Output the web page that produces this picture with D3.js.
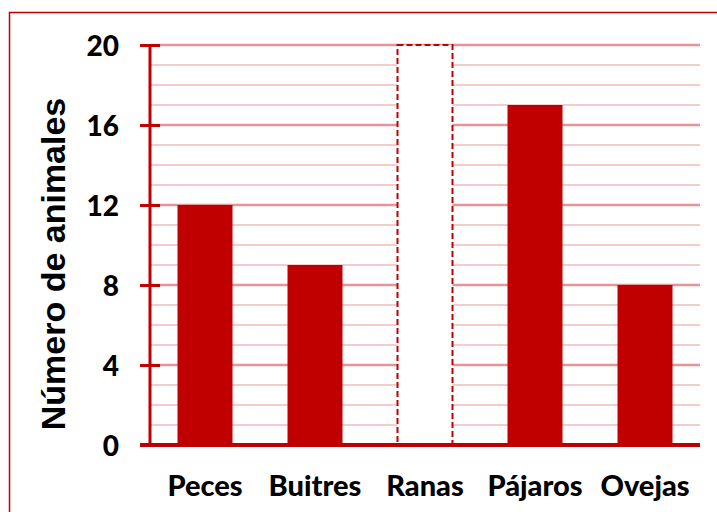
<!DOCTYPE html>
<html>
<head>
<meta charset="utf-8">
<script src="https://cdn.jsdelivr.net/npm/d3@7"></script>
<style>
	body { margin: 0; background: #fff; }
	svg { display: block; }
</style>
</head>
<body>
<svg id="chart" width="717" height="512"></svg>
<script>
// Chart data
const categories = ["Peces", "Buitres", "Ranas", "Pájaros", "Ovejas"];
const values = [12, 9, 20, 17, 8];
const emptyBars = ["Ranas"]; // drawn as dashed outline only
const majorTicks = [0, 4, 8, 12, 16, 20];
const minorTicks = d3.range(1, 20).filter(v => v % 4 !== 0);
const yTitle = "Número de animales";

const red = "#c00000";

const svg = d3.select("#chart");

const x = d3.scaleBand()
	.domain(categories)
	.range([150, 700])
	.paddingInner(0.5)
	.paddingOuter(0.25);

const y = d3.scaleLinear()
	.domain([0, 20])
	.range([445, 45]);

// Outer frame (right and bottom edges fall outside the picture)
svg.append("rect")
	.attr("x", 9.5).attr("y", 12.5)
	.attr("width", 730).attr("height", 520)
	.attr("fill", "none")
	.attr("stroke", red)
	.attr("stroke-width", 1.5);

// Gridlines
svg.append("g").selectAll("line")
	.data(minorTicks)
	.enter().append("line")
	.attr("x1", 150).attr("x2", 700)
	.attr("y1", d => y(d)).attr("y2", d => y(d))
	.attr("stroke", "#f5cccc")
	.attr("stroke-width", 2);

svg.append("g").selectAll("line")
	.data(majorTicks.filter(d => d > 0))
	.enter().append("line")
	.attr("x1", 150).attr("x2", 700)
	.attr("y1", d => y(d)).attr("y2", d => y(d))
	.attr("stroke", "#e49595")
	.attr("stroke-width", 2.5);

// Bars
const data = categories.map((c, i) => ({ name: c, value: values[i] }));

svg.append("g").selectAll("rect")
	.data(data)
	.enter().append("rect")
	.attr("x", d => x(d.name))
	.attr("y", d => y(d.value))
	.attr("width", x.bandwidth())
	.attr("height", d => y(0) - y(d.value))
	.attr("fill", d => emptyBars.includes(d.name) ? "#fff" : red)
	.attr("stroke", d => emptyBars.includes(d.name) ? red : "none")
	.attr("stroke-width", 2)
	.attr("stroke-dasharray", d => emptyBars.includes(d.name) ? "6,3" : null);

// Y axis: ticks crossing the axis line
const yAxis = svg.append("g")
	.attr("transform", "translate(160,0)")
	.call(d3.axisLeft(y).tickValues(majorTicks).tickSize(20).tickPadding(21));

yAxis.select(".domain").remove();
yAxis.selectAll(".tick line")
	.attr("stroke", red)
	.attr("stroke-width", 3);
yAxis.selectAll(".tick text")
	.attr("dy", "10px")
	.attr("fill", "#000")
	.style("font-family", "Lato, sans-serif")
	.style("font-weight", "900")
	.style("font-size", "28px");

svg.append("line")
	.attr("x1", 150).attr("x2", 150)
	.attr("y1", y(20) - 1).attr("y2", y(0))
	.attr("stroke", red)
	.attr("stroke-width", 3);

// X axis
svg.append("line")
	.attr("x1", 140).attr("x2", 700)
	.attr("y1", y(0)).attr("y2", y(0))
	.attr("stroke", red)
	.attr("stroke-width", 4);

svg.append("g").selectAll("text")
	.data(categories)
	.enter().append("text")
	.attr("x", d => x(d) + x.bandwidth() / 2)
	.attr("y", 496)
	.attr("text-anchor", "middle")
	.style("font-family", "Lato, sans-serif")
	.style("font-weight", "900")
	.style("font-size", "29px")
	.text(d => d);

// Y axis title
svg.append("text")
	.attr("transform", "translate(65,264) rotate(-90)")
	.attr("text-anchor", "middle")
	.style("font-family", "'Liberation Sans', Arial, sans-serif")
	.style("font-weight", "bold")
	.style("font-size", "34px")
	.text(yTitle);
</script>
</body>
</html>
